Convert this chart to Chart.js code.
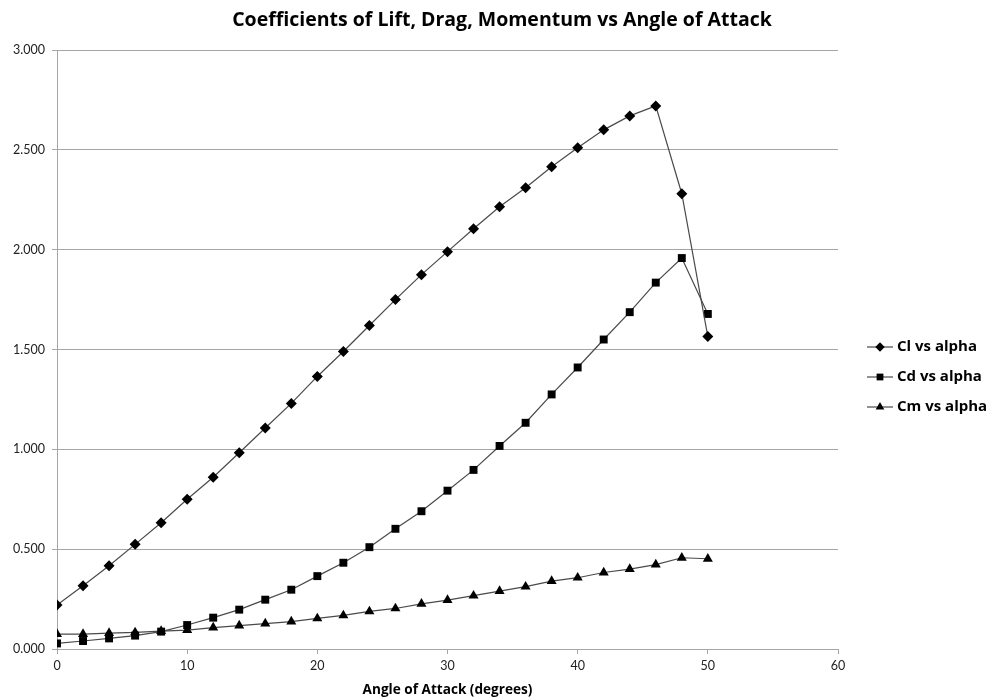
<!DOCTYPE html>
<html>
<head>
<meta charset="utf-8">
<script src="https://cdn.jsdelivr.net/npm/chart.js@4/dist/chart.umd.min.js"></script>
<style>
  html, body { margin: 0; padding: 0; background: #fff; }
  #wrap { width: 989px; height: 700px; position: relative; }
</style>
</head>
<body>
<div id="wrap"><canvas id="c"></canvas></div>
<script>
// Angle of attack (degrees)
const angles = [0, 2, 4, 6, 8, 10, 12, 14, 16, 18, 20, 22, 24, 26, 28, 30, 32, 34, 36, 38, 40, 42, 44, 46, 48, 50];
// Lift coefficient
const cl = [0.220, 0.317, 0.417, 0.524, 0.632, 0.750, 0.860, 0.983, 1.107, 1.230, 1.365, 1.490, 1.620, 1.750, 1.875, 1.990, 2.105, 2.215, 2.310, 2.415, 2.510, 2.600, 2.670, 2.720, 2.280, 1.565];
// Drag coefficient
const cd = [0.028, 0.040, 0.053, 0.067, 0.087, 0.120, 0.157, 0.197, 0.247, 0.297, 0.365, 0.432, 0.510, 0.602, 0.690, 0.793, 0.897, 1.017, 1.133, 1.275, 1.410, 1.550, 1.687, 1.835, 1.958, 1.678];
// Moment coefficient
const cm = [0.075, 0.075, 0.080, 0.083, 0.090, 0.095, 0.107, 0.117, 0.127, 0.137, 0.153, 0.168, 0.188, 0.203, 0.226, 0.245, 0.267, 0.290, 0.312, 0.340, 0.357, 0.383, 0.400, 0.423, 0.457, 0.452];

const seriesNames = ['Cl vs alpha', 'Cd vs alpha', 'Cm vs alpha'];
const chartTitle = 'Coefficients of Lift, Drag, Momentum vs Angle of Attack';
const xTitle = 'Angle of Attack (degrees)';

const TICK_FONT = 'Lato, "Open Sans", "DejaVu Sans", sans-serif';
const BOLD_FONT = '"Open Sans", Lato, "DejaVu Sans", sans-serif';
const lineColor = '#4a4a4a';
const gridColor = '#a6a6a6';

function pts(ys) { return angles.map((a, i) => ({ x: a, y: ys[i] })); }

const styles = [
  { pointStyle: 'rectRot', radius: 5.5 },
  { pointStyle: 'rect', radius: 5.6 },
  { pointStyle: 'triangle', radius: 5.8 }
];

const datasets = [cl, cd, cm].map((ys, i) => ({
  label: seriesNames[i],
  data: pts(ys),
  showLine: true,
  borderColor: lineColor,
  borderWidth: 1.2,
  pointStyle: styles[i].pointStyle,
  pointRadius: styles[i].radius,
  pointBackgroundColor: '#000',
  pointBorderColor: '#000',
  pointBorderWidth: 0,
  tension: 0
}));

// Chart title, x-axis title and right-hand legend (line segment + marker + text)
const decor = {
  id: 'decor',
  afterDraw(chart) {
    const ctx = chart.ctx;
    const area = chart.chartArea;
    ctx.save();
    ctx.fillStyle = '#000';
    ctx.textAlign = 'center';
    ctx.textBaseline = 'middle';
    ctx.font = 'bold 19.5px ' + BOLD_FONT;
    ctx.fillText(chartTitle, 502, 20);

    ctx.font = 'bold 13.6px ' + BOLD_FONT;
    ctx.fillText(xTitle, (area.left + area.right) / 2, 690);

    chart.data.datasets.forEach((ds, i) => {
      const y = 347 + i * 30;
      ctx.strokeStyle = lineColor;
      ctx.lineWidth = 1.2;
      ctx.beginPath();
      ctx.moveTo(867, y);
      ctx.lineTo(893, y);
      ctx.stroke();
      ctx.fillStyle = '#000';
      Chart.helpers.drawPoint(ctx, {
        pointStyle: ds.pointStyle,
        radius: ds.pointRadius - 0.8,
        borderWidth: 0
      }, 880, y);
      ctx.fillStyle = '#000';
      ctx.font = 'bold 15px ' + BOLD_FONT;
      ctx.textAlign = 'left';
      ctx.textBaseline = 'middle';
      ctx.fillText(ds.label, 897, y);
    });
    ctx.restore();
  }
};

new Chart(document.getElementById('c'), {
  type: 'scatter',
  data: { datasets },
  options: {
    responsive: true,
    maintainAspectRatio: false,
    animation: false,
    layout: { padding: { top: 50, right: 151, bottom: 0, left: 0 } },
    plugins: {
      legend: { display: false },
      tooltip: { enabled: false },
      title: { display: false }
    },
    scales: {
      x: {
        type: 'linear',
        min: 0,
        max: 60,
        ticks: {
          stepSize: 10,
          color: '#222',
          font: { family: TICK_FONT, size: 12.5 },
          padding: 4,
          maxRotation: 0
        },
        grid: {
          drawOnChartArea: false,
          drawTicks: true,
          tickLength: 5,
          color: gridColor
        },
        border: { display: true, color: gridColor, width: 1 },
        afterFit(s) { s.height = 51; }
      },
      y: {
        type: 'linear',
        min: 0,
        max: 3,
        ticks: {
          stepSize: 0.5,
          color: '#222',
          font: { family: TICK_FONT, size: 12.5 },
          padding: 7,
          callback: v => Number(v).toFixed(3)
        },
        grid: {
          drawOnChartArea: true,
          drawTicks: true,
          tickLength: 5,
          color: gridColor,
          lineWidth: 1
        },
        border: { display: true, color: gridColor, width: 1 },
        afterFit(s) { s.width = 57; }
      }
    }
  },
  plugins: [decor]
});
</script>
</body>
</html>
